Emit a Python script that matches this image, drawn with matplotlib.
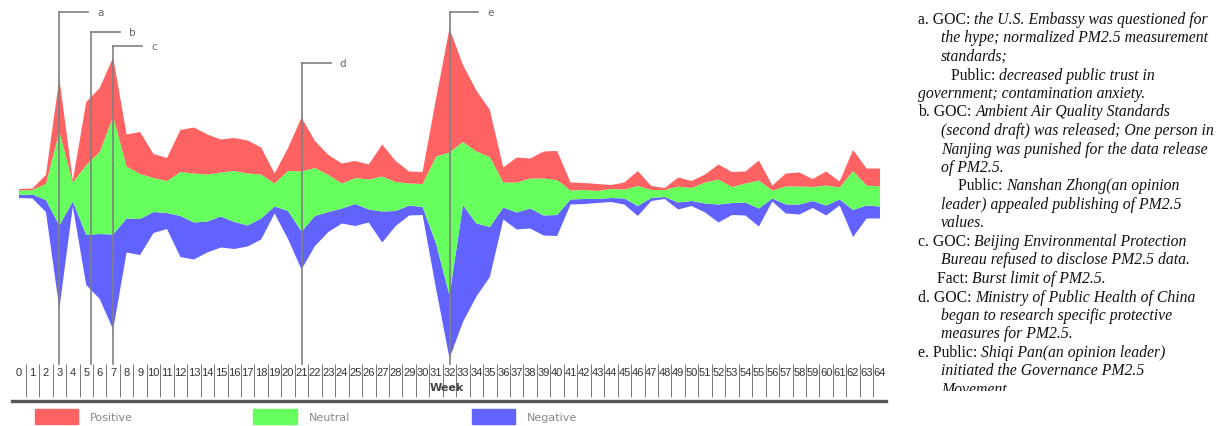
import numpy as np
import matplotlib.pyplot as plt
from matplotlib.lines import Line2D
from matplotlib.patches import Rectangle
from matplotlib.transforms import Bbox, TransformedBbox

# weekly stream thickness (positive / neutral / negative)
weeks = list(range(65))
positive = [1.5, 1.5, 9, 53, 2, 63, 64, 59, 32, 42, 24, 23, 42, 46, 40, 33, 33, 33, 27, 10,
            23, 54, 27, 20, 20, 17, 15, 32, 21, 12, 12, 58, 124, 77, 61, 47, 15, 25, 20, 27,
            29, 8, 7, 7, 4, 7, 15, 4, 2, 9, 7, 8, 15, 15, 12, 20, 5, 13, 14, 8,
            14, 6, 21, 17, 18]
neutral = [4.5, 4.5, 16, 94, 19, 70, 82, 118, 52, 45, 34, 32, 44, 49, 47, 44, 51, 52, 44, 23,
           40, 60, 48, 37, 25, 26, 30, 35, 29, 22, 23, 87, 143, 63, 72, 70, 25, 30, 30, 37,
           35, 9, 9, 8, 9, 9, 20, 8, 7, 16, 13, 21, 25, 16, 19, 28, 8, 18, 18, 14,
           20, 12, 39, 20, 20]
negative = [3, 4, 12, 83, 5, 50, 65, 95, 34, 36, 21, 16, 41, 37, 31, 31, 27, 21, 21, 7,
            28, 38, 30, 20, 15, 22, 13, 31, 15, 10, 8, 45, 63, 117, 73, 50, 12, 17, 20, 20,
            21, 5, 5, 4, 4, 6, 10, 3, 2, 7, 5, 9, 18, 12, 13, 18, 3, 9, 10, 7,
            10, 6, 27, 13, 12]

series_names = ["Positive", "Neutral", "Negative"]
series_colors = ["#ff6262", "#66ff5e", "#6262ff"]

event_weeks = [3, 5.35, 7, 21, 32]
event_labels = ["a", "b", "c", "d", "e"]

notes = [
    ("a. GOC: ", "the U.S. Embassy was questioned for", 918),
    ("", "the hype; normalized PM2.5 measurement", 941),
    ("", "standards;", 941),
    ("Public: ", "decreased public trust in", 951),
    ("", "government; contamination anxiety.", 918),
    ("b. GOC: ", "Ambient Air Quality Standards", 918),
    ("", "(second draft) was released; One person in", 941),
    ("", "Nanjing was punished for the data release", 941),
    ("", "of PM2.5.", 941),
    ("Public: ", "Nanshan Zhong(an opinion", 958),
    ("", "leader) appealed publishing of PM2.5", 941),
    ("", "values.", 941),
    ("c. GOC: ", "Beijing Environmental Protection", 918),
    ("", "Bureau refused to disclose PM2.5 data.", 941),
    ("Fact: ", "Burst limit of PM2.5.", 937),
    ("d. GOC: ", "Ministry of Public Health of China", 918),
    ("", "began to research specific protective", 941),
    ("", "measures for PM2.5.", 941),
    ("e. Public: ", "Shiqi Pan(an opinion leader)", 918),
    ("", "initiated the Governance PM2.5", 941),
    ("", "Movement.", 941),
]

W, H = 1226, 427
fig = plt.figure(figsize=(W / 100, H / 100), dpi=100)


def fx(px):
    return px / W


def fy(py):
    return 1 - py / H


# -----------------------------
# stream graph
# -----------------------------
center = 194.5
bottom_px = 365
ax = fig.add_axes([fx(19), fy(bottom_px), fx(880) - fx(19), fy(0) - fy(bottom_px)])
ax.stackplot(weeks, negative, neutral, positive, baseline="sym",
             colors=series_colors[::-1], linewidth=0)
ax.set_xlim(0, 64)
ax.set_ylim(-(bottom_px - center), center)
for s in ax.spines.values():
    s.set_visible(False)
ax.set_yticks([])
ax.set_xticks(weeks)
ax.set_xticklabels([str(w) for w in weeks], fontsize=8, color="#333333",
                   family="Liberation Sans")
ax.tick_params(axis="x", which="major", length=0, pad=2)
ax.set_xticks(np.arange(0.5, 64, 1), minor=True)
ax.tick_params(axis="x", which="minor", length=24, width=0.7, color="#777777")

# event markers
wk_px = 861 / 64
label_px = [13, 33, 47, 64, 13]
for w, lab, py in zip(event_weeks, event_labels, label_px):
    ytop = center - py
    ybot = center - bottom_px
    ax.plot([w, w], [ybot, ytop], color="#808080", lw=1.2, clip_on=False)
    ax.plot([w, w + 29 / wk_px], [ytop, ytop], color="#808080", lw=1.2, clip_on=False)
    ax.text(w + 41 / wk_px, ytop, lab, fontsize=7.5, color="#666666",
            va="center", ha="center", family="DejaVu Sans")

fig.text(fx(447), fy(388), "Week", fontsize=8, fontweight="bold", color="#444444",
         ha="center", va="center", family="DejaVu Sans")
fig.add_artist(Line2D([fx(12), fx(886)], [fy(402), fy(402)], color="#555555", lw=2.4,
                      transform=fig.transFigure))

# legend
for i, (name, col) in enumerate(zip(series_names, series_colors)):
    x0 = 35 + 218.5 * i
    fig.add_artist(Rectangle((fx(x0), fy(425)), fx(43), 15 / H, color=col,
                             transform=fig.transFigure))
    fig.text(fx(x0 + 55), fy(418), name, fontsize=8, color="#888888",
             va="center", ha="left", family="DejaVu Sans")

# -----------------------------
# notes on the right
# -----------------------------
clip = TransformedBbox(Bbox([[0, fy(392)], [1, 1]]), fig.transFigure)
for i, (head, body, x) in enumerate(notes):
    y = fy(20 + 18.5 * i)
    t1 = fig.text(fx(x), y, head, fontsize=11.3, family="Liberation Serif",
                  va="center", ha="left", color="#111111")
    t2 = fig.text(0, 0, body, fontsize=11.3, family="Liberation Serif", style="italic",
                  va="center", ha="left", color="#111111")
    fig.canvas.draw()
    bb = t1.get_window_extent()
    t2.set_position((bb.x1 / W if head else fx(x), y))
    t1.set_clip_box(clip)
    t2.set_clip_box(clip)
    t1.set_clip_on(True)
    t2.set_clip_on(True)

fig.savefig("out.png", dpi=100)
